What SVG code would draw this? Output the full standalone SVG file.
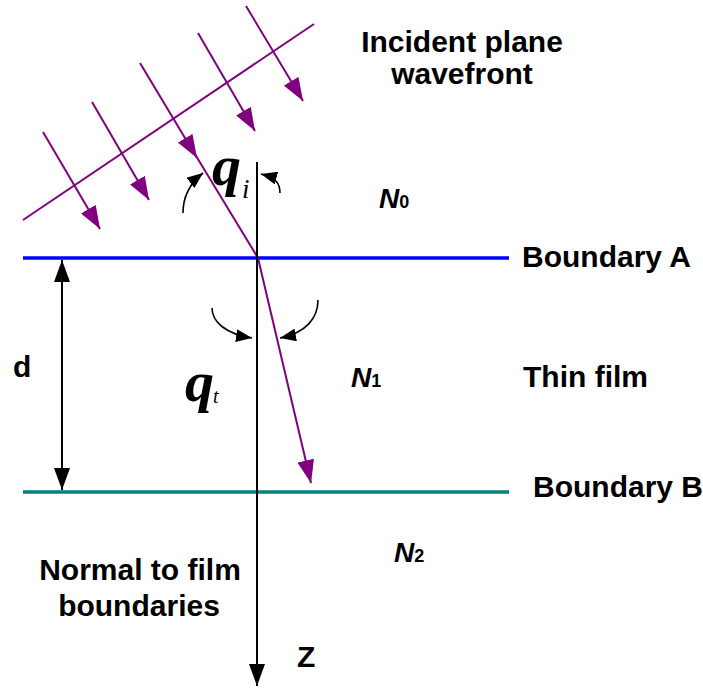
<svg xmlns="http://www.w3.org/2000/svg" width="703" height="688" viewBox="0 0 703 688">
<defs>
<style>
.lbl{font-family:"Liberation Sans",Arial,sans-serif;font-weight:bold;font-size:30px;fill:#000}
.nn{font-family:"Liberation Sans",Arial,sans-serif;font-weight:bold;font-style:italic;font-size:28px;fill:#000}
.nsub{font-style:normal;font-size:18px}
.greek{font-family:"Liberation Serif","Times New Roman",serif;font-weight:bold;font-style:italic;font-size:58px;fill:#000}
.sub{font-family:"Liberation Serif","Times New Roman",serif;font-style:italic;fill:#000}
.ray{stroke:#800080;stroke-width:2;fill:none}
.blk{stroke:#000;stroke-width:2;fill:none}
.arc{stroke:#000;stroke-width:1.6;fill:none}
</style>
<marker id="pa" markerWidth="23" markerHeight="17" refX="23" refY="8.5" orient="auto" markerUnits="userSpaceOnUse">
<path d="M0,0 L23,8.5 L0,17 Z" fill="#800080"/>
</marker>
<marker id="ba" markerWidth="22" markerHeight="16" refX="22" refY="8" orient="auto" markerUnits="userSpaceOnUse">
<path d="M0,0 L22,8 L0,16 Z" fill="#000"/>
</marker>
<marker id="bs" markerWidth="22" markerHeight="16" refX="0" refY="8" orient="auto" markerUnits="userSpaceOnUse">
<path d="M22,0 L0,8 L22,16 Z" fill="#000"/>
</marker>
<marker id="sa" markerWidth="16" markerHeight="13" refX="16" refY="6.5" orient="auto" markerUnits="userSpaceOnUse">
<path d="M0,0 L16,6.5 L0,13 Z" fill="#000"/>
</marker>
</defs>
<rect width="703" height="688" fill="#fff"/>

<g id="boundaryA-line"><line x1="23" y1="258" x2="509" y2="258" stroke="#0000ff" stroke-width="3.5"/></g>
<g id="boundaryB-line"><line x1="23" y1="492" x2="509" y2="492" stroke="#008080" stroke-width="3.5"/></g>
<g id="wavefront-line"><line x1="23" y1="220" x2="314" y2="24" class="ray"/></g>

<g id="connectors">
<line x1="43" y1="132" x2="100" y2="229" class="ray" marker-end="url(#pa)"/>
<line x1="92" y1="102" x2="149" y2="200" class="ray" marker-end="url(#pa)"/>
<line x1="198" y1="33" x2="255" y2="131" class="ray" marker-end="url(#pa)"/>
<line x1="246" y1="6" x2="303" y2="101" class="ray" marker-end="url(#pa)"/>
<line x1="140" y1="63" x2="197" y2="158" class="ray" marker-end="url(#pa)"/>
<line x1="190" y1="146" x2="258" y2="258" class="ray"/>
<line x1="258" y1="258" x2="311" y2="483" class="ray" marker-end="url(#pa)"/>
<line x1="257" y1="162" x2="257" y2="686" class="blk" marker-end="url(#ba)"/>
<line x1="62" y1="260" x2="62" y2="490" class="blk" marker-start="url(#bs)" marker-end="url(#ba)"/>
<path d="M183,213 C183,197 189,184 203,173" class="arc" marker-end="url(#sa)"/>
<path d="M280,193 C280,183 276,178 261,174" class="arc" marker-end="url(#sa)"/>
<path d="M212,308 C212,322 226,334 252,338" class="arc" marker-end="url(#sa)"/>
<path d="M318,300 C318,318 306,333 280,338" class="arc" marker-end="url(#sa)"/>
</g>

<g id="theta-i"><text x="212" y="185" class="greek">q</text><text x="242" y="198" class="sub" font-size="27">i</text></g>
<g id="theta-t"><text x="185" y="401" class="greek">q</text><text x="213" y="403" class="sub" font-size="20">t</text></g>

<g id="incident-label"><text x="462" y="52" class="lbl" text-anchor="middle">Incident plane</text><text x="462" y="84" class="lbl" text-anchor="middle">wavefront</text></g>
<g id="n0"><text x="379" y="208" class="nn">N<tspan class="nsub">0</tspan></text></g>
<g id="n1"><text x="351" y="387" class="nn">N<tspan class="nsub">1</tspan></text></g>
<g id="n2"><text x="394" y="562" class="nn">N<tspan class="nsub">2</tspan></text></g>
<g id="boundaryA"><text x="522" y="267" class="lbl">Boundary A</text></g>
<g id="thinfilm"><text x="523" y="387" class="lbl">Thin film</text></g>
<g id="boundaryB"><text x="533" y="497" class="lbl">Boundary B</text></g>
<g id="d-label"><text x="13" y="377" class="lbl" font-size="23">d</text></g>
<g id="normal-label"><text x="140" y="580" class="lbl" text-anchor="middle">Normal to film</text><text x="139" y="616" class="lbl" text-anchor="middle">boundaries</text></g>
<g id="z-label"><text x="297" y="667" class="lbl" font-size="28">Z</text></g>
</svg>
